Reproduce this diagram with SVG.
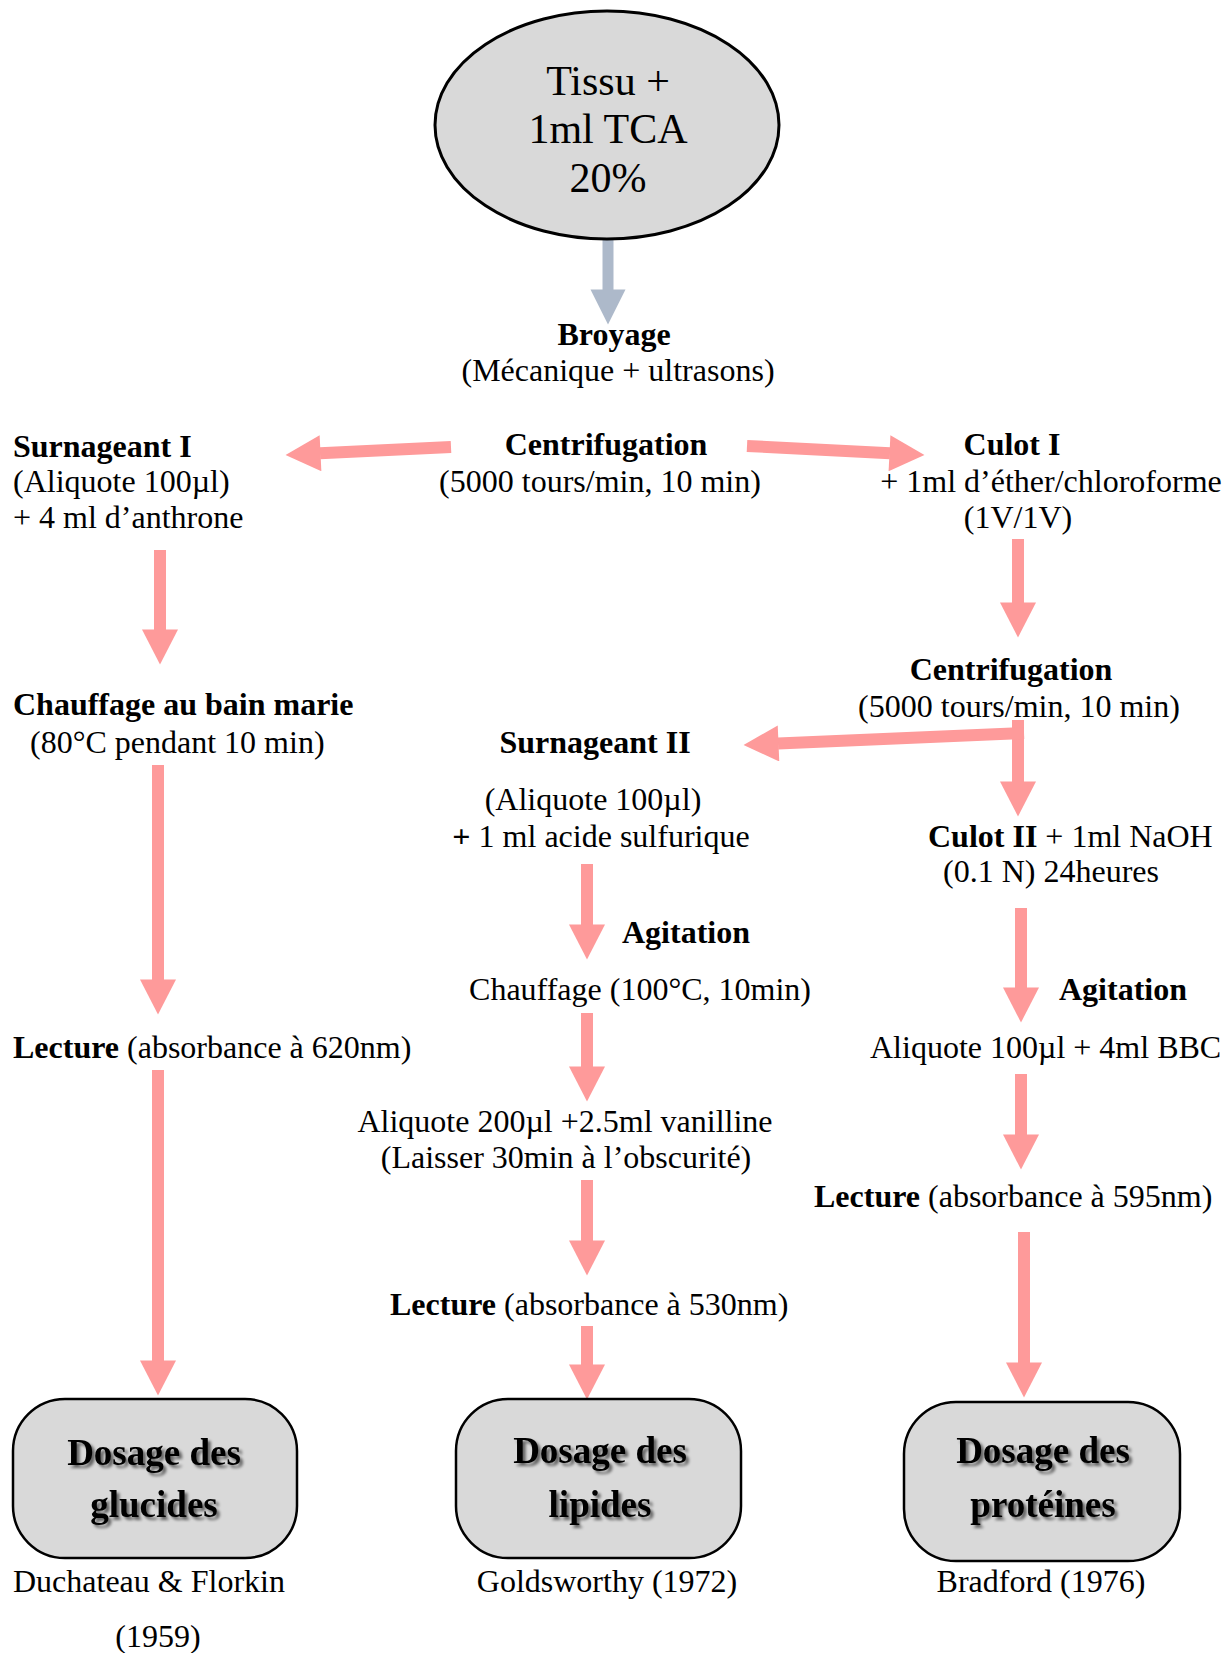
<svg xmlns="http://www.w3.org/2000/svg" width="1231" height="1653" viewBox="0 0 1231 1653">
  <style>
    text { font-family: "Liberation Serif", "Times New Roman", serif; font-size: 32px; fill: #000; }
    .b { font-weight: bold; }
    .mid { text-anchor: middle; }
    .big { font-size: 42px; }
    .box-t { font-size: 37px; font-weight: bold; text-anchor: middle; filter: url(#shadow); }
    .flow { stroke: #fe9a9a; stroke-width: 12; fill: none; marker-end: url(#head); }
    .grey { stroke: #adb9ca; stroke-width: 11; fill: none; marker-end: url(#headGrey); }
    .box { fill: #d9d9d9; stroke: #000; stroke-width: 2.5; }
  </style>
  <defs>
    <marker id="head" markerUnits="userSpaceOnUse" markerWidth="36" markerHeight="36" viewBox="0 0 35 36" refX="0.5" refY="18" orient="auto">
      <path d="M0,0 L35,18 L0,36 z" fill="#fe9a9a"/>
    </marker>
    <marker id="headGrey" markerUnits="userSpaceOnUse" markerWidth="36" markerHeight="36" viewBox="0 0 35 36" refX="0.5" refY="18" orient="auto">
      <path d="M0,0.5 L35,18 L0,35.5 z" fill="#adb9ca"/>
    </marker>
    <filter id="shadow" x="-10%" y="-30%" width="120%" height="160%">
      <feGaussianBlur in="SourceAlpha" stdDeviation="1.6" result="blur"/>
      <feOffset in="blur" dx="2.5" dy="2.5" result="off"/>
      <feComponentTransfer in="off" result="soft">
        <feFuncA type="linear" slope="0.55"/>
      </feComponentTransfer>
      <feMerge>
        <feMergeNode in="soft"/>
        <feMergeNode in="SourceGraphic"/>
      </feMerge>
    </filter>
  </defs>

  <rect width="1231" height="1653" fill="#fff"/>

  <!-- connectors -->
  <g id="connectors">
    <line class="grey" x1="608" y1="236" x2="608" y2="290"/>
    <line class="flow" x1="451" y1="447" x2="320" y2="453.3"/>
    <line class="flow" x1="747" y1="446" x2="890" y2="453.2"/>
    <line class="flow" x1="160" y1="550" x2="160" y2="630"/>
    <line class="flow" x1="1018" y1="539" x2="1018" y2="603"/>
    <line class="flow" x1="1018" y1="720" x2="1018" y2="782"/>
    <line class="flow" x1="1024" y1="733" x2="778" y2="743.5"/>
    <line class="flow" x1="158" y1="765" x2="158" y2="980"/>
    <line class="flow" x1="158" y1="1070" x2="158" y2="1361"/>
    <line class="flow" x1="587" y1="864" x2="587" y2="925"/>
    <line class="flow" x1="587" y1="1013" x2="587" y2="1067"/>
    <line class="flow" x1="587" y1="1180" x2="587" y2="1241"/>
    <line class="flow" x1="587" y1="1326" x2="587" y2="1365"/>
    <line class="flow" x1="1021" y1="908" x2="1021" y2="988"/>
    <line class="flow" x1="1021" y1="1074" x2="1021" y2="1135"/>
    <line class="flow" x1="1024" y1="1232" x2="1024" y2="1363"/>
  </g>

  <!-- starting sample -->
  <g id="tissu">
    <ellipse cx="607" cy="125" rx="172" ry="114" fill="#d9d9d9" stroke="#000" stroke-width="3"/>
    <text class="big mid" x="608" y="95">Tissu +</text>
    <text class="big mid" x="608" y="143">1ml TCA</text>
    <text class="big mid" x="608" y="192">20%</text>
  </g>

  <g id="broyage">
    <text class="b mid" x="614" y="345">Broyage</text>
    <text class="mid" x="618" y="381">(Mécanique + ultrasons)</text>
  </g>

  <g id="centrifugation1">
    <text class="b mid" x="606" y="455">Centrifugation</text>
    <text class="mid" x="600" y="492">(5000 tours/min, 10 min)</text>
  </g>

  <!-- glucides branch -->
  <g id="surnageant1">
    <text class="b" x="13" y="457">Surnageant I</text>
    <text x="13" y="492">(Aliquote 100µl)</text>
    <text x="13" y="528">+ 4 ml d’anthrone</text>
  </g>

  <g id="chauffage-bain">
    <text class="b" x="13" y="715">Chauffage au bain marie</text>
    <text x="30" y="753">(80°C pendant 10 min)</text>
  </g>

  <g id="lecture620">
    <text x="13" y="1058"><tspan class="b">Lecture</tspan> (absorbance à 620nm)</text>
  </g>

  <g id="dosage-glucides">
    <rect class="box" x="13" y="1399" width="284" height="159" rx="52" ry="52"/>
    <text class="box-t" x="154" y="1465">Dosage des</text>
    <text class="box-t" x="154" y="1517">glucides</text>
    <text x="13" y="1592">Duchateau &amp; Florkin</text>
    <text class="mid" x="158" y="1647">(1959)</text>
  </g>

  <!-- culot branch -->
  <g id="culot1">
    <text class="b mid" x="1012" y="455">Culot I</text>
    <text class="mid" x="1051" y="492">+ 1ml d’éther/chloroforme</text>
    <text class="mid" x="1018" y="528">(1V/1V)</text>
  </g>

  <g id="centrifugation2">
    <text class="b mid" x="1011" y="680">Centrifugation</text>
    <text class="mid" x="1019" y="717">(5000 tours/min, 10 min)</text>
  </g>

  <!-- lipides branch -->
  <g id="surnageant2">
    <text class="b mid" x="595" y="753">Surnageant II</text>
    <text class="mid" x="593" y="810">(Aliquote 100µl)</text>
    <text class="mid" x="601" y="847"><tspan class="b">+</tspan> 1 ml acide sulfurique</text>
  </g>

  <g id="agitation-lipides">
    <text class="b" x="622" y="943">Agitation</text>
  </g>

  <g id="chauffage100">
    <text class="mid" x="640" y="1000">Chauffage (100°C, 10min)</text>
  </g>

  <g id="vanilline">
    <text class="mid" x="565" y="1132">Aliquote 200µl +2.5ml vanilline</text>
    <text class="mid" x="566" y="1168">(Laisser 30min à l’obscurité)</text>
  </g>

  <g id="lecture530">
    <text x="390" y="1315"><tspan class="b">Lecture</tspan> (absorbance à 530nm)</text>
  </g>

  <g id="dosage-lipides">
    <rect class="box" x="456" y="1399" width="285" height="159" rx="52" ry="52"/>
    <text class="box-t" x="600" y="1463">Dosage des</text>
    <text class="box-t" x="600" y="1517">lipides</text>
    <text class="mid" x="607" y="1592">Goldsworthy (1972)</text>
  </g>

  <!-- protéines branch -->
  <g id="culot2">
    <text x="928" y="847"><tspan class="b">Culot II</tspan> + 1ml NaOH</text>
    <text x="943" y="882">(0.1 N) 24heures</text>
  </g>

  <g id="agitation-proteines">
    <text class="b" x="1059" y="1000">Agitation</text>
  </g>

  <g id="bbc">
    <text x="870" y="1058">Aliquote 100µl + 4ml BBC</text>
  </g>

  <g id="lecture595">
    <text x="814" y="1207"><tspan class="b">Lecture</tspan> (absorbance à 595nm)</text>
  </g>

  <g id="dosage-proteines">
    <rect class="box" x="904" y="1402" width="276" height="159" rx="52" ry="52"/>
    <text class="box-t" x="1043" y="1463">Dosage des</text>
    <text class="box-t" x="1043" y="1517">protéines</text>
    <text class="mid" x="1041" y="1592">Bradford (1976)</text>
  </g>
</svg>
